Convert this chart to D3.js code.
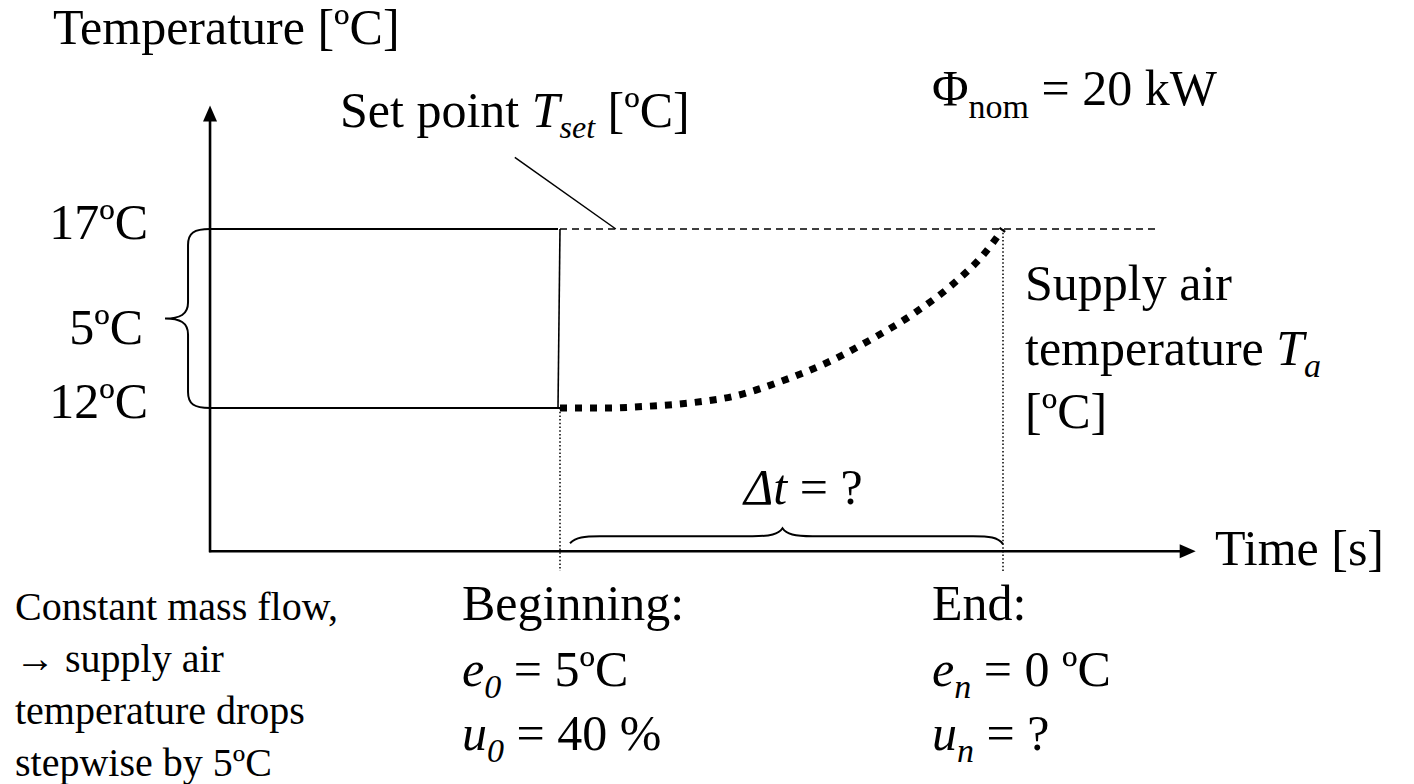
<!DOCTYPE html>
<html lang="en">
<head>
  <meta charset="UTF-8">
  <title>Supply air temperature step</title>
  <style>
    body { margin: 0; background: #fff; }
    svg text { font-family: "Liberation Serif", "Times New Roman", serif; fill: #000; }
    .big { font-size: 50px; }
    .small { font-size: 40px; }
    .it { font-style: italic; }
  </style>
</head>
<body>
  <script src="https://d3js.org/d3.v7.min.js"></script>
  <script>
    // data (time in arbitrary units: step at 0, set point reached at 100)
    const stepTime = 0;
    const endTime = 100;
    const setPoint = 17;
    const startTemp = 12;
    const tickValues = [17, 14.5, 12];
    const tickLabels = ['17ºC', '5ºC', '12ºC'];
    const curveTime = [0, 10, 20, 30, 40, 50, 60, 70, 80, 90, 95, 100];
    const curveTemp = [12.0, 12.0, 12.05, 12.15, 12.35, 12.75, 13.25, 13.9, 14.65, 15.6, 16.2, 17.0];
    const timeExtent = [-79, 143.5];
    const tempExtent = [8.0, 20.45];

    const W = 1414, H = 784;
    const svg = d3.select('body').append('svg')
      .attr('width', W).attr('height', H)
      .attr('viewBox', `0 0 ${W} ${H}`);

    const x = d3.scaleLinear().domain([stepTime, endTime]).range([560, 1003]);
    const y = d3.scaleLinear().domain([startTemp, setPoint]).range([408, 229]);

    const x0 = x(timeExtent[0]);
    const y0 = y(tempExtent[0]);

    // axes with arrow heads
    const axisG = svg.append('g').attr('stroke', '#000').attr('stroke-width', 2.6);
    axisG.append('line')
      .attr('x1', x0).attr('y1', y0 + 1)
      .attr('x2', x0).attr('y2', y(tempExtent[1]) + 14);
    axisG.append('line')
      .attr('x1', x0 - 1).attr('y1', y0)
      .attr('x2', x(timeExtent[1]) - 14).attr('y2', y0);
    const tipY = y(tempExtent[1]);
    const tipX = x(timeExtent[1]);
    svg.append('path')
      .attr('d', `M${x0},${tipY} L${x0 - 7},${tipY + 16} L${x0 + 7},${tipY + 16} Z`);
    svg.append('path')
      .attr('d', `M${tipX},${y0} L${tipX - 16},${y0 - 7} L${tipX - 16},${y0 + 7} Z`);

    // step before the set point change
    const stepG = svg.append('g').attr('stroke', '#000').attr('fill', 'none');
    stepG.append('line').attr('stroke-width', 2)
      .attr('x1', x0).attr('y1', y(setPoint)).attr('x2', x(stepTime) - 2).attr('y2', y(setPoint));
    stepG.append('line').attr('stroke-width', 2)
      .attr('x1', x0).attr('y1', y(startTemp)).attr('x2', x(stepTime)).attr('y2', y(startTemp));
    stepG.append('line').attr('stroke-width', 1.6)
      .attr('x1', x(stepTime)).attr('y1', y(setPoint)).attr('x2', x(stepTime) - 2).attr('y2', y(startTemp));

    // set point (dashed)
    svg.append('line')
      .attr('stroke', '#000').attr('stroke-width', 1.4).attr('stroke-dasharray', '7,5')
      .attr('x1', x(stepTime)).attr('y1', y(setPoint))
      .attr('x2', x(135.4)).attr('y2', y(setPoint));

    // leader from the set point label
    svg.append('line')
      .attr('stroke', '#000').attr('stroke-width', 1.5)
      .attr('x1', x(-10.2)).attr('y1', y(19.0))
      .attr('x2', x(12.6)).attr('y2', y(setPoint));

    // dotted verticals at beginning and end
    svg.append('g').attr('stroke', '#000').attr('stroke-width', 1.5).attr('stroke-dasharray', '1.5,2.2')
      .selectAll('line')
      .data([[stepTime, startTemp], [endTime, setPoint]])
      .join('line')
      .attr('x1', d => x(d[0])).attr('y1', d => y(d[1]))
      .attr('x2', d => x(d[0])).attr('y2', y(7.45));

    // supply air temperature response
    const curveData = curveTime.map((t, i) => [t, curveTemp[i]]);
    svg.append('path')
      .datum(curveData)
      .attr('fill', 'none').attr('stroke', '#000')
      .attr('stroke-width', 7).attr('stroke-dasharray', '7,8')
      .attr('d', d3.line().x(d => x(d[0])).y(d => y(d[1])).curve(d3.curveMonotoneX));

    // brace spanning the 5ºC step
    const bx = x0, bt = y(setPoint), bb = y(startTemp), bm = (bt + bb) / 2;
    svg.append('path')
      .attr('fill', 'none').attr('stroke', '#000').attr('stroke-width', 2)
      .attr('d', `M${bx},${bt} C${bx - 16},${bt} ${bx - 22},${bt + 4} ${bx - 22},${bt + 16}
                  L${bx - 22},${bm - 16} C${bx - 22},${bm - 4} ${bx - 30},${bm} ${bx - 45},${bm}
                  C${bx - 30},${bm} ${bx - 22},${bm + 4} ${bx - 22},${bm + 16}
                  L${bx - 22},${bb - 16} C${bx - 22},${bb - 4} ${bx - 16},${bb} ${bx},${bb}`);

    // brace spanning delta t
    const dl = x(stepTime) + 10, dr = x(endTime), dm = (dl + dr) / 2 - 4, dy0 = y0 - 8;
    svg.append('path')
      .attr('fill', 'none').attr('stroke', '#000').attr('stroke-width', 2)
      .attr('d', `M${dl},${dy0} C${dl + 6},${dy0 - 6} ${dl + 14},${dy0 - 7} ${dl + 30},${dy0 - 7}
                  L${dm - 30},${dy0 - 7} C${dm - 12},${dy0 - 7} ${dm - 4},${dy0 - 9} ${dm},${dy0 - 15}
                  C${dm + 4},${dy0 - 9} ${dm + 12},${dy0 - 7} ${dm + 30},${dy0 - 7}
                  L${dr - 30},${dy0 - 7} C${dr - 14},${dy0 - 7} ${dr - 5},${dy0 - 6} ${dr},${dy0 + 1}`);

    // temperature labels
    svg.append('g').selectAll('text')
      .data(tickValues)
      .join('text')
      .attr('class', 'big')
      .attr('text-anchor', 'end')
      .attr('x', (d, i) => i === 1 ? 143 : 148)
      .attr('y', (d, i) => i === 1 ? y(d) + 25 : y(d) + 10)
      .text((d, i) => tickLabels[i]);

    // other texts
    function addText(px, py, cls, parts) {
      const t = svg.append('text').attr('class', cls).attr('x', px).attr('y', py);
      parts.forEach(p => {
        const s = t.append('tspan').text(p.t);
        if (p.it) s.attr('class', 'it');
        if (p.size) s.style('font-size', p.size + 'px');
        if (p.dy) s.attr('dy', p.dy);
      });
      return t;
    }

    addText(53, 44, 'big', [{t: 'Temperature [ºC]'}]);
    addText(340, 127, 'big', [
      {t: 'Set point '}, {t: 'T', it: true}, {t: 'set', it: true, size: 32, dy: 11},
      {t: ' [ºC]', dy: -11}
    ]);
    addText(932, 105, 'big', [
      {t: 'Φ'}, {t: 'nom', size: 34, dy: 13}, {t: ' = 20 kW', dy: -13}
    ]);
    addText(1025, 300, 'big', [{t: 'Supply air'}]);
    addText(1025, 365, 'big', [
      {t: 'temperature '}, {t: 'T', it: true}, {t: 'a', it: true, size: 34, dy: 12}
    ]);
    addText(1025, 428, 'big', [{t: '[ºC]'}]);
    addText(744, 504, 'big', [{t: 'Δt', it: true}, {t: ' = ?'}]);
    addText(1215, 565, 'big', [{t: 'Time [s]'}]);

    ['Constant mass flow,', '→ supply air', 'temperature drops', 'stepwise by 5ºC']
      .forEach((s, i) => addText(15, 620 + i * 52, 'small', [{t: s}]));

    addText(462, 620, 'big', [{t: 'Beginning:'}]);
    addText(462, 686, 'big', [{t: 'e', it: true}, {t: '0', it: true, size: 34, dy: 12}, {t: ' = 5ºC', dy: -12}]);
    addText(462, 750, 'big', [{t: 'u', it: true}, {t: '0', it: true, size: 34, dy: 12}, {t: ' = 40 %', dy: -12}]);

    addText(932, 620, 'big', [{t: 'End:'}]);
    addText(932, 686, 'big', [{t: 'e', it: true}, {t: 'n', it: true, size: 34, dy: 12}, {t: ' = 0 ºC', dy: -12}]);
    addText(932, 750, 'big', [{t: 'u', it: true}, {t: 'n', it: true, size: 34, dy: 12}, {t: ' = ?', dy: -12}]);
  </script>
</body>
</html>
